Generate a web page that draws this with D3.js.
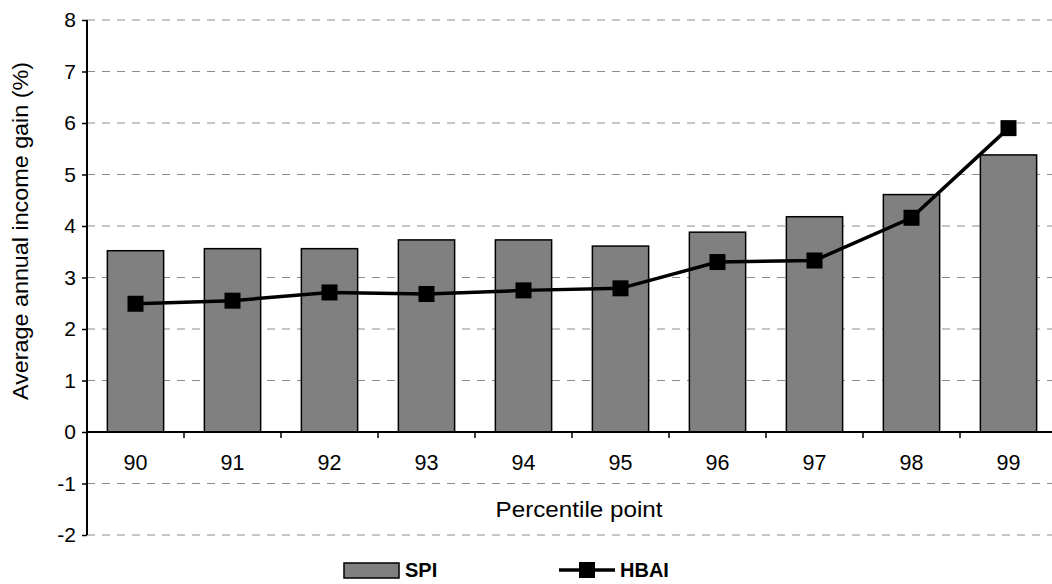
<!DOCTYPE html>
<html>
<head>
<meta charset="utf-8">
<script src="https://cdn.jsdelivr.net/npm/d3@7"></script>
<style>
  body { margin: 0; background: #fff; }
  svg { font-family: "Liberation Sans", Arial, sans-serif; }
</style>
</head>
<body>
<div id="chart"></div>
<script>
// Data
const percentiles = ['90', '91', '92', '93', '94', '95', '96', '97', '98', '99']
const spiValues = [3.52, 3.56, 3.56, 3.73, 3.73, 3.61, 3.88, 4.18, 4.61, 5.38]
const hbaiValues = [2.49, 2.55, 2.71, 2.68, 2.75, 2.79, 3.30, 3.33, 4.16, 5.90]
const yTicks = [-2, -1, 0, 1, 2, 3, 4, 5, 6, 7, 8]

// Dimensions
const dimensions = {
  width: 1052,
  height: 584,
  left: 87,
  right: 1057,
  top: 20,
  bottom: 535,
}

const svg = d3.select('#chart')
  .append('svg')
  .attr('width', dimensions.width)
  .attr('height', dimensions.height)

// Scales
const xScale = d3.scaleBand()
  .domain(percentiles)
  .range([dimensions.left, dimensions.right])
  .paddingInner(0.42)
  .paddingOuter(0.21)

const yScale = d3.scaleLinear()
  .domain([-2, 8])
  .range([dimensions.bottom, dimensions.top])

// Grid
svg.append('g')
  .selectAll('line')
  .data(yTicks.filter(d => d !== 0))
  .join('line')
  .attr('x1', dimensions.left)
  .attr('x2', dimensions.right)
  .attr('y1', d => yScale(d))
  .attr('y2', d => yScale(d))
  .attr('stroke', '#8c8c8c')
  .attr('stroke-width', 1)
  .attr('stroke-dasharray', '8,7')

// Bars
svg.append('g')
  .selectAll('rect')
  .data(spiValues)
  .join('rect')
  .attr('x', (d, i) => xScale(percentiles[i]))
  .attr('y', d => yScale(d))
  .attr('width', xScale.bandwidth())
  .attr('height', d => yScale(0) - yScale(d))
  .attr('fill', '#808080')
  .attr('stroke', '#000')
  .attr('stroke-width', 1.5)

// Y axis
const yAxis = d3.axisLeft(yScale)
  .tickValues(yTicks)
  .tickSize(5)
  .tickPadding(6)
  .tickFormat(d => String(d))

const yAxisGroup = svg.append('g')
  .attr('transform', `translate(${dimensions.left}, 0)`)
  .call(yAxis)
yAxisGroup.attr('font-size', null).attr('font-family', null)
yAxisGroup.select('.domain').attr('stroke', '#000').attr('stroke-width', 2).attr('d', `M0,${dimensions.top}V${dimensions.bottom}`)
yAxisGroup.selectAll('.tick line').attr('stroke', '#000').attr('stroke-width', 1.5)
yAxisGroup.selectAll('.tick text')
  .attr('font-size', 21)
  .attr('fill', '#000')

// X axis (at zero)
const boundaries = d3.range(1, percentiles.length).map(i => dimensions.left + i * (dimensions.right - dimensions.left) / percentiles.length)

svg.append('line')
  .attr('x1', dimensions.left)
  .attr('x2', dimensions.right)
  .attr('y1', yScale(0))
  .attr('y2', yScale(0))
  .attr('stroke', '#000')
  .attr('stroke-width', 2)

const xAxisGroup = svg.append('g')
xAxisGroup.selectAll('line')
  .data(boundaries)
  .join('line')
  .attr('x1', d => d)
  .attr('x2', d => d)
  .attr('y1', yScale(0))
  .attr('y2', yScale(0) + 6)
  .attr('stroke', '#000')
  .attr('stroke-width', 1.5)

xAxisGroup.selectAll('text')
  .data(percentiles)
  .join('text')
  .attr('x', d => xScale(d) + xScale.bandwidth() / 2)
  .attr('y', 470)
  .attr('text-anchor', 'middle')
  .attr('font-size', 21.5)
  .text(d => d)

// Axis titles
svg.append('text')
  .attr('x', 579)
  .attr('y', 517)
  .attr('text-anchor', 'middle')
  .attr('font-size', 21.5)
  .attr('textLength', 167)
  .attr('lengthAdjust', 'spacingAndGlyphs')
  .text('Percentile point')

svg.append('text')
  .attr('transform', `translate(28, 231) rotate(-90)`)
  .attr('text-anchor', 'middle')
  .attr('font-size', 22)
  .attr('textLength', 338)
  .attr('lengthAdjust', 'spacingAndGlyphs')
  .text('Average annual income gain (%)')

// Line
const lineGenerator = d3.line()
  .x((d, i) => xScale(percentiles[i]) + xScale.bandwidth() / 2)
  .y(d => yScale(d))

svg.append('path')
  .datum(hbaiValues)
  .attr('d', lineGenerator)
  .attr('fill', 'none')
  .attr('stroke', '#000')
  .attr('stroke-width', 3.5)

const markerSize = 16
svg.append('g')
  .selectAll('rect')
  .data(hbaiValues)
  .join('rect')
  .attr('x', (d, i) => xScale(percentiles[i]) + xScale.bandwidth() / 2 - markerSize / 2)
  .attr('y', d => yScale(d) - markerSize / 2)
  .attr('width', markerSize)
  .attr('height', markerSize)
  .attr('fill', '#000')

// Legend
const legend = svg.append('g')
legend.append('rect')
  .attr('x', 344)
  .attr('y', 563)
  .attr('width', 55)
  .attr('height', 15)
  .attr('fill', '#808080')
  .attr('stroke', '#000')
  .attr('stroke-width', 1.5)
legend.append('text')
  .attr('x', 405)
  .attr('y', 577)
  .attr('font-size', 20)
  .attr('font-weight', 'bold')
  .text('SPI')

legend.append('line')
  .attr('x1', 559)
  .attr('x2', 615)
  .attr('y1', 570)
  .attr('y2', 570)
  .attr('stroke', '#000')
  .attr('stroke-width', 3.5)
legend.append('rect')
  .attr('x', 587 - markerSize / 2)
  .attr('y', 570 - markerSize / 2)
  .attr('width', markerSize)
  .attr('height', markerSize)
  .attr('fill', '#000')
legend.append('text')
  .attr('x', 620)
  .attr('y', 577)
  .attr('font-size', 20)
  .attr('font-weight', 'bold')
  .text('HBAI')
</script>
</body>
</html>
